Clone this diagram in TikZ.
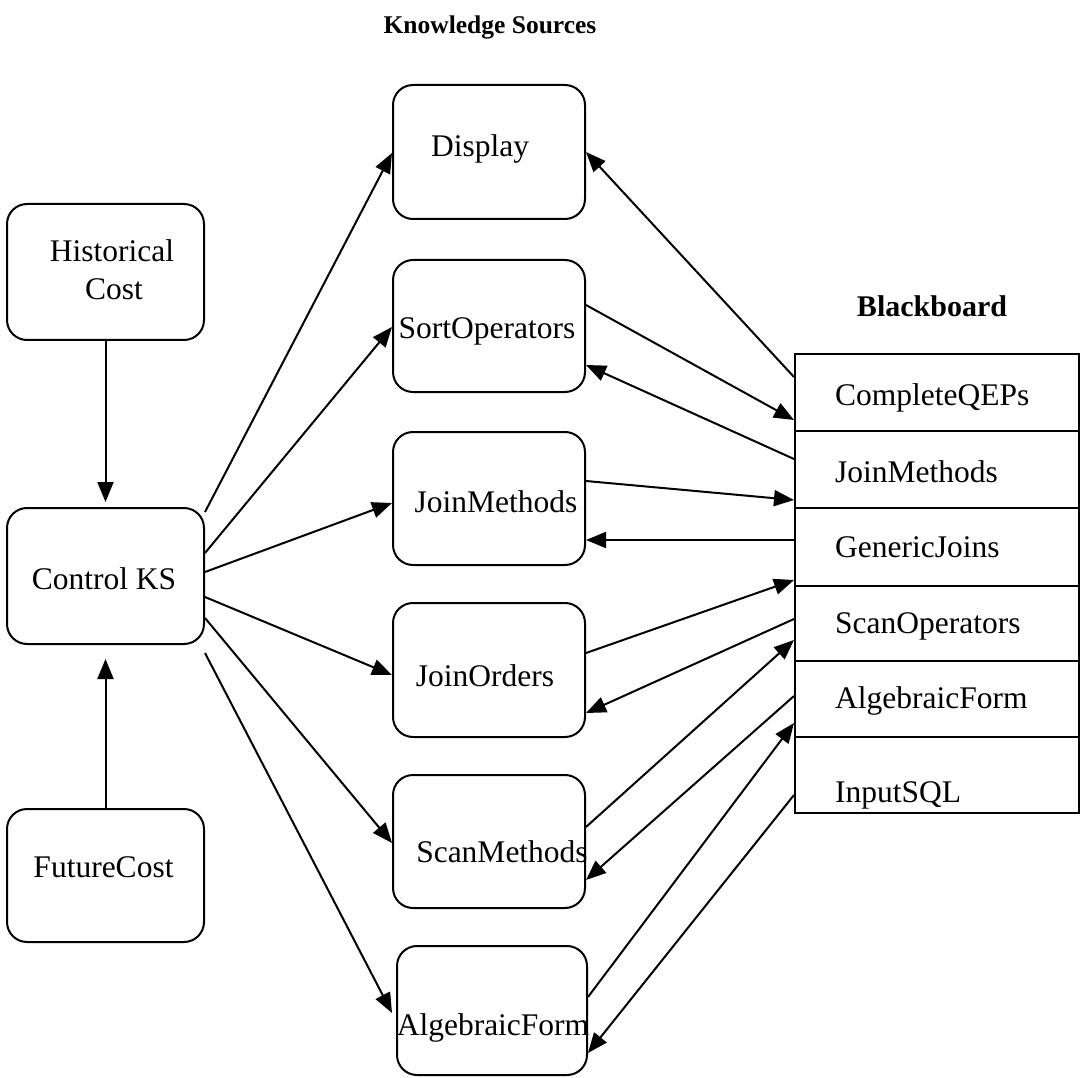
\documentclass[tikz,border=0pt]{standalone}
\usepackage{fontspec}
\setmainfont{Liberation Serif}
\usetikzlibrary{arrows.meta}
\begin{document}
\begin{tikzpicture}[x=1pt,y=-1pt,
  box/.style={draw, line width=2pt, rounded corners=20pt, inner sep=0pt},
  cell/.style={draw, line width=2pt, inner sep=0pt, minimum width=284pt},
  txt/.style={font=\fontsize{31.5}{38}\selectfont, inner sep=0pt, anchor=base},
  bbtxt/.style={font=\fontsize{31.5}{38}\selectfont, inner sep=0pt, anchor=base west},
  ttl/.style={font=\fontsize{#1}{32}\selectfont\bfseries, inner sep=0pt, anchor=base},
  link/.style={line width=2pt, -{Triangle[length=20pt,width=16pt]}}
]
\useasboundingbox (0,0) rectangle (1080,1078);

% titles
\node[ttl=25.5] (ksttl) at (490,34) {Knowledge Sources};
\node[ttl=30] (bbttl) at (932,317) {Blackboard};

% left column
\node[box, minimum width=197pt, minimum height=136pt] (hist) at (105.5,272) {};
\node[box, minimum width=197pt, minimum height=136pt] (ctrl) at (105.5,576) {};
\node[box, minimum width=197pt, minimum height=133pt] (fut) at (105.5,875.5) {};
\node[txt] (thist) at (112,262) {Historical};
\node[txt] (thist2) at (114,300) {Cost};
\node[txt] (tctrl) at (104,589) {Control KS};
\node[txt] (tfut) at (103.5,877) {FutureCost};

% knowledge sources
\node[box, minimum width=192pt, minimum height=134pt] (disp) at (489,152) {};
\node[box, minimum width=192pt, minimum height=132pt] (sort) at (489,326) {};
\node[box, minimum width=192pt, minimum height=133pt] (joinm) at (489,498.5) {};
\node[box, minimum width=192pt, minimum height=134pt] (joino) at (489,670) {};
\node[box, minimum width=192pt, minimum height=133pt] (scanm) at (489,841.5) {};
\node[box, minimum width=190pt, minimum height=129pt] (alg) at (492,1010.5) {};
\node[txt] (tdisp) at (480,157) {Display};
\node[txt] (tsort) at (487,338) {SortOperators};
\node[txt] (tjoinm) at (496,512) {JoinMethods};
\node[txt] (tjoino) at (485,686) {JoinOrders};
\node[txt] (tscanm) at (502,862) {ScanMethods};
\node[txt] (talg) at (493,1035) {AlgebraicForm};

% blackboard
\node[cell, minimum height=77pt] (bb1) at (937,392.5) {};
\node[cell, minimum height=77pt] (bb2) at (937,469.5) {};
\node[cell, minimum height=78pt] (bb3) at (937,547) {};
\node[cell, minimum height=75pt] (bb4) at (937,623.5) {};
\node[cell, minimum height=76pt] (bb5) at (937,699) {};
\node[cell, minimum height=76pt] (bb6) at (937,775) {};
\node[bbtxt] (tbb1) at (835,405) {CompleteQEPs};
\node[bbtxt] (tbb2) at (835,482) {JoinMethods};
\node[bbtxt] (tbb3) at (835,557) {GenericJoins};
\node[bbtxt] (tbb4) at (835,633) {ScanOperators};
\node[bbtxt] (tbb5) at (835,708) {AlgebraicForm};
\node[bbtxt] (tbb6) at (835,802) {InputSQL};

% cost estimators feed the control KS
\draw[link] (hist.south) -- ([yshift=5pt]ctrl.north);
\draw[link] (fut.north) -- ([yshift=-14pt]ctrl.south);

% control KS activates the knowledge sources
\draw[link] ([yshift=64pt]ctrl.east) -- ([yshift=-1pt]disp.west);
\draw[link] ([yshift=23pt]ctrl.east) -- ([yshift=-1pt]sort.west);
\draw[link] ([yshift=4pt]ctrl.east) -- ([yshift=-4.5pt]joinm.west);
\draw[link] ([yshift=-21pt]ctrl.east) -- ([yshift=-5pt]joino.west);
\draw[link] ([yshift=-42pt]ctrl.east) -- ([yshift=-1.5pt]scanm.west);
\draw[link] ([yshift=-77pt]ctrl.east) -- ([yshift=-2.5pt,xshift=-4pt]alg.west);

% knowledge sources read from and write to the blackboard
\draw[link] ([yshift=15.5pt]bb1.west) -- (disp.east);
\draw[link] ([yshift=21pt]sort.east) -- ([yshift=-27.5pt]bb1.west);
\draw[link] ([yshift=10.5pt]bb2.west) -- ([yshift=-39pt]sort.east);
\draw[link] ([yshift=17.5pt]joinm.east) -- ([yshift=-30.5pt]bb2.west);
\draw[link] ([yshift=7pt]bb3.west) -- ([yshift=-41.5pt]joinm.east);
\draw[link] ([yshift=17pt]joino.east) -- ([yshift=-33pt]bb3.west);
\draw[link] ([yshift=4.5pt]bb4.west) -- ([yshift=-43pt]joino.east);
\draw[link] ([yshift=14.5pt]scanm.east) -- ([yshift=-16.5pt]bb4.west);
\draw[link] ([yshift=3pt]bb5.west) -- ([yshift=-38.5pt]scanm.east);
\draw[link] ([yshift=13.5pt]alg.east) -- ([yshift=-24pt]bb5.west);
\draw[link] ([yshift=-20pt]bb6.west) -- ([yshift=-42.5pt]alg.east);
\end{tikzpicture}
\end{document}
